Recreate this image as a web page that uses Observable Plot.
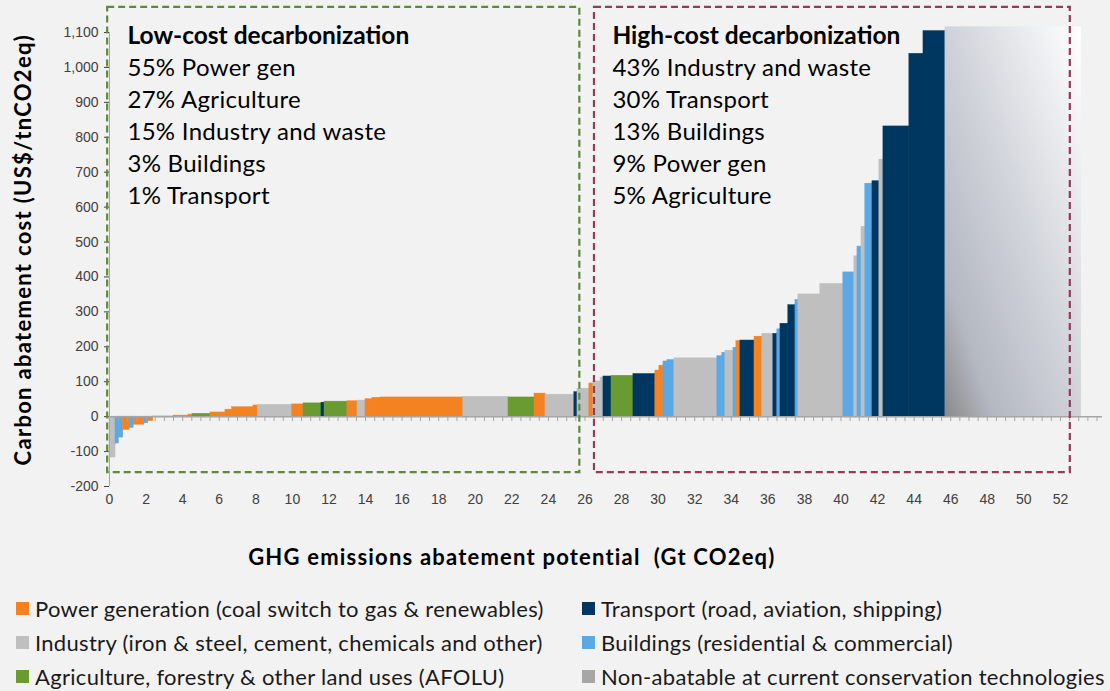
<!DOCTYPE html>
<html>
<head>
<meta charset="utf-8">
<script src="https://cdn.jsdelivr.net/npm/d3@7"></script>
<script src="https://cdn.jsdelivr.net/npm/@observablehq/plot@0.6"></script>
<style>
  html, body { margin: 0; padding: 0; background: #f2f2f2; }
  #chart { width: 1110px; }
  .legend { position: relative; width: 1110px; height: 101px; font-family: Lato, "Noto Sans", sans-serif; font-size: 22px; letter-spacing: 0.3px; color: #1a1a1a; }
  .item { position: absolute; display: flex; align-items: center; white-space: nowrap; height: 34px; }
  .sw { width: 13px; height: 13px; margin-right: 6px; flex: none; }
</style>
</head>
<body>
<div id="chart"></div>
<div class="legend" id="legend"></div>
<script>
// ---- Data ----
const sectorKeys   = ["Power", "Industry", "AFOLU", "Transport", "Buildings", "NonAbatable"];
const sectorColors = ["#f58220", "#bfbfbf", "#6a9a32", "#003761", "#5aa8e4", "url(#nonAbatableGrad)"];
const legendLabels = [
  "Power generation (coal switch to gas & renewables)",
  "Industry (iron & steel, cement, chemicals and other)",
  "Agriculture, forestry & other land uses (AFOLU)",
  "Transport (road, aviation, shipping)",
  "Buildings (residential & commercial)",
  "Non-abatable at current conservation technologies"
];
const legendKeys   = ["Power", "Industry", "AFOLU", "Transport", "Buildings", "NonAbatable"];
const legendSwatch = ["#f58220", "#bfbfbf", "#6a9a32", "#003761", "#5aa8e4", "#a6a6a6"];

// abatement measures, in merit order: sector, potential (Gt CO2eq), cost (US$/tCO2eq)
const barSector = ["Industry","Buildings","Buildings","Power","Buildings","Power","Buildings","Power","Industry","Power",
  "Power","AFOLU","Power","Power","Power","Power","Industry","Power","AFOLU","Transport",
  "AFOLU","Power","Industry","Power","Power","Power","Industry","AFOLU","Power","Industry",
  "Transport","Industry","Power","Industry","Industry","Transport","AFOLU","Transport","Power","Power",
  "Buildings","Buildings","Industry","Buildings","Buildings","Industry","Buildings","Power","Transport","Power",
  "Industry","Transport","Buildings","Transport","Transport","Buildings","Industry","Industry","Buildings","Industry",
  "Buildings","Industry","Buildings","Transport","Industry","Transport","Transport","Transport","NonAbatable"];
const barWidth = [0.33,0.18,0.24,0.35,0.22,0.59,0.21,0.27,1.11,0.82,
  0.22,0.98,0.82,0.37,1.16,0.26,1.86,0.62,0.98,0.17,
  1.25,0.55,0.44,0.38,0.44,4.53,2.47,1.42,0.60,1.58,
  0.17,0.65,0.22,0.39,0.16,0.44,1.20,1.20,0.22,0.22,
  0.22,0.38,2.35,0.27,0.17,0.44,0.16,0.22,0.77,0.43,
  0.60,0.22,0.17,0.43,0.39,0.16,1.20,1.26,0.60,0.17,
  0.22,0.21,0.39,0.38,0.22,1.42,0.77,1.20,7.43];
const barCost = [-117,-77,-60,-38,-32,-23,-19,-13,1,3,
  6,8,12,20,27,32,34,35,38,40,
  43,44,46,50,54,55,57,55,66,63,
  70,80,95,101,112,115,117,122,132,146,
  158,162,167,173,183,189,197,216,218,229,
  237,237,250,266,319,334,350,380,413,459,
  487,544,667,674,736,831,1039,1104,1115];

const xTicks = [0,2,4,6,8,10,12,14,16,18,20,22,24,26,28,30,32,34,36,38,40,42,44,46,48,50,52];
const xMinorTicks = d3.range(0, 54.5, 0.5);
const yTicks = [-200,-100,0,100,200,300,400,500,600,700,800,900,1000,1100];

const lowTitle = "Low-cost decarbonization";
const lowLines = ["55% Power gen", "27% Agriculture", "15% Industry and waste", "3% Buildings", "1% Transport"];
const highTitle = "High-cost decarbonization";
const highLines = ["43% Industry and waste", "30% Transport", "13% Buildings", "9% Power gen", "5% Agriculture"];
const yTitle = "Carbon abatement cost (US$/tnCO2eq)";
const xTitle = "GHG emissions abatement potential  (Gt CO2eq)";

// annotation boxes (data units)
const lowBox  = [{x1: -0.1, x2: 25.72, y1: -160, y2: 1172}];
const highBox = [{x1: 26.52, x2: 52.54, y1: -160, y2: 1172}];

// ---- Build table ----
let acc = 0;
const bars = barSector.map((s, i) => {
  const d = {sector: s, x1: acc, x2: acc + barWidth[i], cost: barCost[i]};
  acc += barWidth[i];
  return d;
});

const calibri = "Lato, 'Noto Sans', sans-serif";

const chart = Plot.plot({
  width: 1110,
  height: 590,
  marginLeft: 109,
  marginRight: 8,
  marginTop: 32,
  marginBottom: 104,
  style: {background: "#f2f2f2", fontFamily: "'Liberation Sans', Arial, sans-serif", fontSize: "14px", color: "#404040", overflow: "visible"},
  x: {domain: [0, 54.3], ticks: xTicks, tickSize: 0, tickPadding: 8, label: null},
  y: {domain: [-200, 1100], ticks: yTicks, tickSize: 5, tickPadding: 6, label: null,
      tickFormat: d => d.toLocaleString("en-US")},
  color: {domain: sectorKeys, range: sectorColors},
  marks: [
    Plot.rect(bars, {x1: "x1", x2: "x2", y1: 0, y2: "cost", fill: "sector", stroke: "sector", strokeWidth: 0.5}),
    Plot.ruleY([0], {stroke: "#a6a6a6", strokeWidth: 1.5}),
    Plot.ruleX(xMinorTicks, {y1: 0, y2: -14, stroke: "#a6a6a6"}),
    Plot.ruleX([0], {y1: -200, y2: 1100, stroke: "#a6a6a6"}),
    Plot.rect(lowBox, {x1: "x1", x2: "x2", y1: "y1", y2: "y2", fill: "none", stroke: "#5b8a3a", strokeWidth: 2.2, strokeDasharray: "7,4"}),
    Plot.rect(highBox, {x1: "x1", x2: "x2", y1: "y1", y2: "y2", fill: "none", stroke: "#963a5a", strokeWidth: 2.2, strokeDasharray: "7,4"}),
    Plot.text([lowTitle], {x: 0.98, y: 1066, text: d => d, textAnchor: "start", lineAnchor: "bottom", fontFamily: calibri, fontWeight: "bold", fontSize: 24.5, fill: "#000"}),
    Plot.text([lowLines.join("\n")], {x: 0.98, y: 610, text: d => d, textAnchor: "start", lineAnchor: "bottom", lineHeight: 31.8 / 24, fontFamily: calibri, fontSize: 24, fill: "#000"}),
    Plot.text([highTitle], {x: 27.5, y: 1066, text: d => d, textAnchor: "start", lineAnchor: "bottom", fontFamily: calibri, fontWeight: "bold", fontSize: 24.5, fill: "#000"}),
    Plot.text([highLines.join("\n")], {x: 27.5, y: 610, text: d => d, textAnchor: "start", lineAnchor: "bottom", lineHeight: 31.8 / 24, fontFamily: calibri, fontSize: 24, fill: "#000"}),
    Plot.text([yTitle], {frameAnchor: "left", dx: -86, y: 478, text: d => d, rotate: -90, textAnchor: "middle", lineAnchor: "middle", fontFamily: calibri, fontWeight: "bold", fontSize: 22, fill: "#000"}),
    Plot.text([xTitle], {x: 22, y: -200, dy: 78, text: d => d, textAnchor: "middle", lineAnchor: "bottom", fontFamily: calibri, fontWeight: "bold", fontSize: 22, fill: "#000"})
  ]
});

// gradient for the non-abatable block
d3.select(chart).insert("defs", ":first-child").html(`
  <linearGradient id="nonAbatableGrad" x1="0" y1="1" x2="1" y2="0">
    <stop offset="0%" stop-color="#8a8a8a"/>
    <stop offset="18%" stop-color="#b4b8c1"/>
    <stop offset="55%" stop-color="#d3d6dc"/>
    <stop offset="100%" stop-color="#ffffff"/>
  </linearGradient>`);

// letter spacing to mimic the wider Calibri-like set width
const spacing = [0, 0.3, 0, 0.3, 1.3, 1.2];
d3.select(chart).selectAll('g[aria-label="text"]').each(function(_, i) {
  if (spacing[i]) this.style.letterSpacing = spacing[i] + "px";
});

document.getElementById("chart").appendChild(chart);

// ---- Legend ----
const legend = d3.select("#legend");
legendKeys.forEach((k, i) => {
  const col = i < 3 ? 0 : 1;
  const row = i % 3;
  const it = legend.append("div").attr("class", "item")
    .style("left", (col === 0 ? 16 : 582) + "px")
    .style("top", (1 + row * 34) + "px");
  it.append("div").attr("class", "sw").style("background", legendSwatch[i]);
  it.append("span").text(legendLabels[i]);
});
</script>
</body>
</html>
